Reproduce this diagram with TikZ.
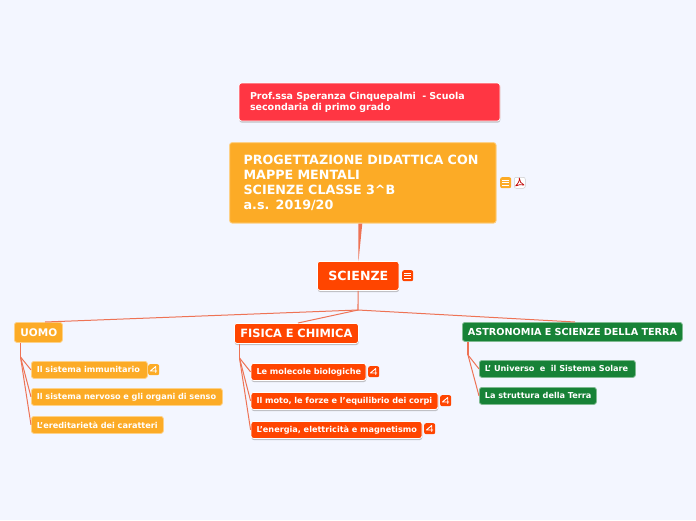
\documentclass[tikz,border=0pt]{standalone}
\usepackage{fontspec}
\setmainfont{DejaVu Sans}
\usetikzlibrary{shadows}
\definecolor{bg}{HTML}{F3F6FF}
\definecolor{oran}{HTML}{FCAB26}
\definecolor{redor}{HTML}{FF4500}
\definecolor{redb}{HTML}{FF3643}
\definecolor{grn}{HTML}{178237}
\definecolor{conn}{HTML}{EE7355}
\newcommand{\tl}[1]{\mbox{#1}}
\tikzset{
  x=1pt,y=-1pt,
  boxbase/.style={anchor=north west,rounded corners=2.5pt,text=white,font=\bfseries,align=left,inner ysep=0pt,line width=.8pt},
  shad/.style={drop shadow={shadow xshift=0.3pt,shadow yshift=-1.6pt,fill=black!50,opacity=.45}},
  bx/.style n args={3}{boxbase,minimum width=#1pt,text width=#1pt-2*#2pt,inner xsep=#2pt,minimum height=#3pt},
  link/.style={draw=conn,line width=1pt},
  trunk/.style={draw=conn,line width=1.1pt},
  ic/.style={anchor=north west,minimum size=11pt,inner sep=0pt,rounded corners=2pt,text=white},
  notes/.pic={\foreach \yy in {-2.5,0,2.5}{\draw[white,line width=1pt] (-3.3,\yy)--(3.3,\yy);}},
  four/.pic={\draw[white,line width=.9pt,line join=round] (2,3.2)--(2,-3.2)--(-3.3,1.3)--(3.3,1.3);},
  small/.style={font=\bfseries\fontsize{8.15}{10}\selectfont}
}
\begin{document}
\begin{tikzpicture}
\useasboundingbox[fill=bg] (0,0) rectangle (696,520);
% nodes
\node[bx={261}{11}{38},fill=redb,draw=white,shad,font=\bfseries\fontsize{9.5}{11}\selectfont] (prof) at (238.6,82.6) {\tl{Prof.ssa Speranza Cinquepalmi\ \ - Scuola}\\\tl{secondaria di primo grado}};
\node[bx={266.5}{14}{80.5},fill=oran,draw=white!45!oran,font=\bfseries\fontsize{12.7}{15}\selectfont] (main) at (229.2,142.2) {\tl{PROGETTAZIONE DIDATTICA CON}\\\tl{MAPPE MENTALI}\\\tl{SCIENZE CLASSE 3\^{}B}\\\tl{a.s. 2019/20}};
\node[bx={81.5}{11}{29},fill=redor,draw=white,shad,font=\bfseries\fontsize{12.6}{14}\selectfont] (sci) at (317,261) {\tl{SCIENZE}};
\node[bx={48}{6}{20},fill=oran,draw=white!45!oran,font=\bfseries\fontsize{10.5}{12}\selectfont] (uomo) at (14,322) {\tl{UOMO}};
\node[bx={124}{6}{20},fill=redor,draw=white,shad,font=\bfseries\fontsize{11.4}{12}\selectfont] (fis) at (234,323) {\tl{FISICA E CHIMICA}};
\node[bx={220}{5.5}{19},fill=grn,draw=white!45!grn,font=\bfseries\fontsize{9.67}{12}\selectfont] (ast) at (462,322) {\tl{ASTRONOMIA E SCIENZE DELLA TERRA}};

\node[bx={116}{5.5}{17},fill=oran,draw=white!45!oran,small] (u1) at (31,361) {\tl{Il sistema immunitario}};
\node[bx={191}{5.5}{17},fill=oran,draw=white!45!oran,small] (u2) at (31,388) {\tl{Il sistema nervoso e gli organi di senso}};
\node[bx={132}{5.5}{17},fill=oran,draw=white!45!oran,small] (u3) at (31,416) {\tl{L'ereditarietà dei caratteri}};

\node[bx={115}{5.5}{17},fill=redor,draw=white,shad,small] (f1) at (250.6,363) {\tl{Le molecole biologiche}};
\node[bx={187}{5.5}{17},fill=redor,draw=white,shad,small] (f2) at (250.6,392) {\tl{Il moto, le forze e l'equilibrio dei corpi}};
\node[bx={171}{5.5}{17},fill=redor,draw=white,shad,small] (f3) at (250.6,421) {\tl{L'energia, elettricità e magnetismo}};

\node[bx={156}{5.5}{17},fill=grn,draw=white!45!grn,small] (a1) at (479,360) {\tl{L' Universo\ \ e\ \ il Sistema Solare}};
\node[bx={117}{5.5}{17},fill=grn,draw=white!45!grn,small] (a2) at (479,387) {\tl{La struttura della Terra}};

% junctions
\coordinate (jroot) at (358,310);
\coordinate (ju) at (20.5,357);
\coordinate (jf) at (239.5,358);
\coordinate (ja) at (468,355);
\coordinate (uin) at (45,322);
\coordinate (fin) at (298,323);
\coordinate (ain) at (575,322);
\coordinate (mtop) at (358.5,261);
\coordinate (ma) at (358.3,223.5);
\coordinate (mb) at (362.3,223.5);

% connectors
\fill[conn] (ma) -- (mb) -- (mtop) -- cycle;
\draw[trunk] (sci.south) -- (jroot);
\draw[link] (jroot) -- (uin);
\draw[link] (jroot) -- (fin);
\draw[link] (jroot) -- (ain);
\draw[trunk] (uomo.south west) ++(6.5,0) -- (ju);
\draw[trunk] (fis.south west) ++(5.5,0) -- (jf);
\draw[trunk] (ast.south west) ++(6,0) -- (ja);
\foreach \c in {u1,u2,u3}{\draw[link] (ju) -- (\c.west);}
\foreach \c in {f1,f2,f3}{\draw[link] (jf) -- (\c.west);}
\foreach \c in {a1,a2}{\draw[link] (ja) -- (\c.west);}

% icons
\node[ic,fill=oran] (i1) at (500,177) {};
\pic at (i1.center) {notes};
\node[ic,fill=white,draw=black!20,line width=.5pt] (i2) at (514,177) {};
\draw[red!75!black,line width=.7pt,line join=round] (515.5,186) .. controls (518,184) and (520,180) .. (519.3,178) .. controls (519.5,181) and (521,184) .. (524,185) .. controls (521,184) and (518,185) .. (515.5,186);
\node[ic,fill=redor] (i3) at (402,270) {};
\pic at (i3.center) {notes};
\node[ic,fill=oran] (c1) at (148,364) {};
\pic at (c1.center) {four};
\node[ic,fill=redor] (c2) at (368,366) {};
\pic at (c2.center) {four};
\node[ic,fill=redor] (c3) at (440,395) {};
\pic at (c3.center) {four};
\node[ic,fill=redor] (c4) at (424,423) {};
\pic at (c4.center) {four};
\end{tikzpicture}
\end{document}
